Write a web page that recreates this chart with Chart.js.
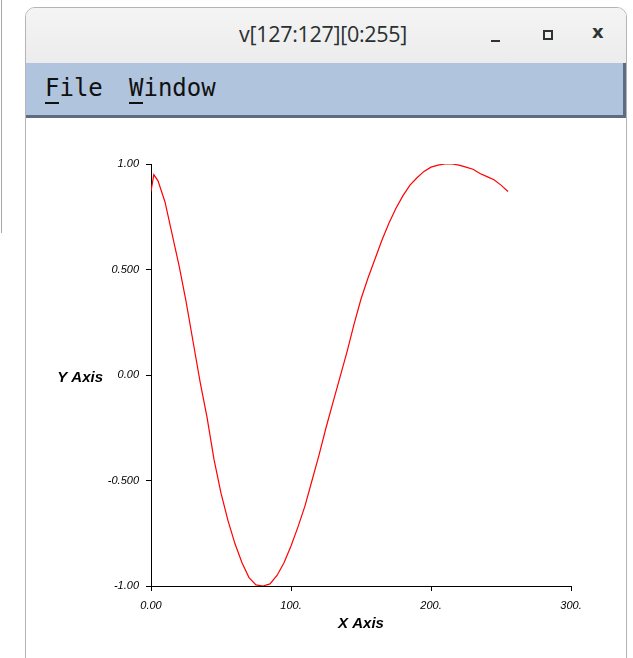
<!DOCTYPE html>
<html>
<head>
<meta charset="utf-8">
<title>v[127:127][0:255]</title>
<script src="https://cdn.jsdelivr.net/npm/chart.js@4/dist/chart.umd.min.js"></script>
<style>
  html, body { margin: 0; padding: 0; background: #fff; width: 633px; height: 658px; overflow: hidden; }
  #edge { position: absolute; left: 1px; top: 0; width: 1px; height: 233px; background: #a8a8a8; }
  #win { position: absolute; left: 25px; top: 7px; width: 600px; height: 670px; border: 1px solid #b4b4b4;
         border-radius: 10px 10px 0 0; background: #fff; overflow: hidden; }
  #titlebar { position: absolute; left: 0; top: 0; width: 600px; height: 55px;
              background: linear-gradient(#f4f4f4, #ececec); border-bottom: 1px solid #d2d2d2; }
  #title { position: absolute; left: 0; width: 594px; top: 11px; text-align: center;
           font: 500 21.5px "Open Sans", "Noto Sans", sans-serif; color: #2a2f30; letter-spacing: -0.3px; }
  #minb { position: absolute; left: 465px; top: 32px; width: 9px; height: 2px; background: #2e3436; }
  #maxb { position: absolute; left: 517px; top: 22px; width: 6px; height: 6px; border: 2px solid #2e3436; }
  #closeb { position: absolute; left: 566px; top: 13px; font: bold 18px "DejaVu Sans", sans-serif; color: #2e3436; }
  #menubar { position: absolute; left: 0; top: 55px; width: 597px; height: 52px; background: #b0c4de;
             border-bottom: 3px solid #5d6c80; border-right: 3px solid #5d6c80; }
  .menu { position: absolute; top: 11px; font: 24px "DejaVu Sans Mono", monospace; color: #111; }
  .menu u { text-decoration: none; border-bottom: 2px solid #111; }
  #plot { position: absolute; left: 26px; top: 118px; width: 596px; height: 540px; }
</style>
</head>
<body>
<div id="edge"></div>
<div id="win">
  <div id="titlebar">
    <div id="title">v[127:127][0:255]</div>
    <div id="minb"></div>
    <div id="maxb"></div>
    <div id="closeb">x</div>
  </div>
  <div id="menubar">
    <div class="menu" style="left:19px;"><u>F</u>ile</div>
    <div class="menu" style="left:103px;"><u>W</u>indow</div>
  </div>
</div>
<div id="plot"><canvas id="chart" width="596" height="540"></canvas></div>

<script>
// v[127][x]
const xs = [0, 2, 5, 10, 15, 20, 25, 30, 35, 40, 45, 50, 55, 60, 65, 70, 75, 80, 85, 90,
  95, 100, 105, 110, 115, 120, 125, 130, 135, 140, 145, 150, 155, 160, 165, 170, 175,
  180, 185, 190, 195, 200, 205, 210, 215, 220, 225, 230, 235, 240, 245, 250, 255];
const ys = [0.87, 0.95, 0.92, 0.82, 0.67, 0.52, 0.35, 0.16, -0.03, -0.20, -0.40, -0.56,
  -0.69, -0.80, -0.89, -0.96, -0.995, -1.0, -0.99, -0.95, -0.89, -0.81, -0.72, -0.62,
  -0.50, -0.38, -0.25, -0.13, -0.01, 0.11, 0.24, 0.36, 0.46, 0.55, 0.64, 0.72, 0.79,
  0.85, 0.90, 0.935, 0.965, 0.985, 0.995, 1.0, 1.0, 0.995, 0.985, 0.975, 0.955, 0.94,
  0.925, 0.90, 0.87];
const xTickLabels = ['0.00', '100.', '200.', '300.'];
const yTickLabels = ['-1.00', '-0.500', '0.00', '0.500', '1.00'];
const xTitle = 'X Axis';
const yTitle = 'Y Axis';

const tickFont = { family: 'Liberation Sans', size: 11, style: 'italic' };

// Y title sits horizontally left of the 0.00 label
const yTitlePlugin = {
  id: 'yTitle',
  afterDraw(chart) {
    const ctx = chart.ctx;
    const y = chart.scales.y.getPixelForValue(0);
    ctx.save();
    ctx.font = 'italic bold 15px "Liberation Sans"';
    ctx.fillStyle = '#000';
    ctx.textAlign = 'right';
    ctx.textBaseline = 'middle';
    ctx.fillText(yTitle, 77, y + 3);
    ctx.restore();
  }
};

new Chart(document.getElementById('chart'), {
  type: 'line',
  data: {
    datasets: [{
      data: xs.map((x, i) => ({ x: x, y: ys[i] })),
      borderColor: '#ff0000',
      borderWidth: 1.2,
      pointRadius: 0,
      tension: 0,
      fill: false
    }]
  },
  options: {
    responsive: false,
    animation: false,
    layout: { padding: { left: 0, top: 46, right: 51, bottom: 25 } },
    plugins: { legend: { display: false }, tooltip: { enabled: false } },
    scales: {
      x: {
        type: 'linear', min: 0, max: 300,
        afterFit: s => { s.height = 47; },
        border: { display: true, color: '#000', width: 1 },
        grid: { drawOnChartArea: false, drawTicks: true, tickLength: 5, color: '#000' },
        ticks: { stepSize: 100, padding: 8, color: '#000', font: tickFont, maxRotation: 0,
                 callback: (v, i) => xTickLabels[i] },
        title: { display: true, text: xTitle, color: '#000', padding: { top: 0, bottom: 0 },
                 font: { family: 'Liberation Sans', size: 15, style: 'italic', weight: 'bold' } }
      },
      y: {
        type: 'linear', min: -1, max: 1,
        afterFit: s => { s.width = 125; },
        border: { display: true, color: '#000', width: 1 },
        grid: { drawOnChartArea: false, drawTicks: true, tickLength: 5, color: '#000' },
        ticks: { stepSize: 0.5, padding: 7, color: '#000', font: tickFont,
                 callback: (v, i) => yTickLabels[i] }
      }
    }
  },
  plugins: [yTitlePlugin]
});
</script>
</body>
</html>
